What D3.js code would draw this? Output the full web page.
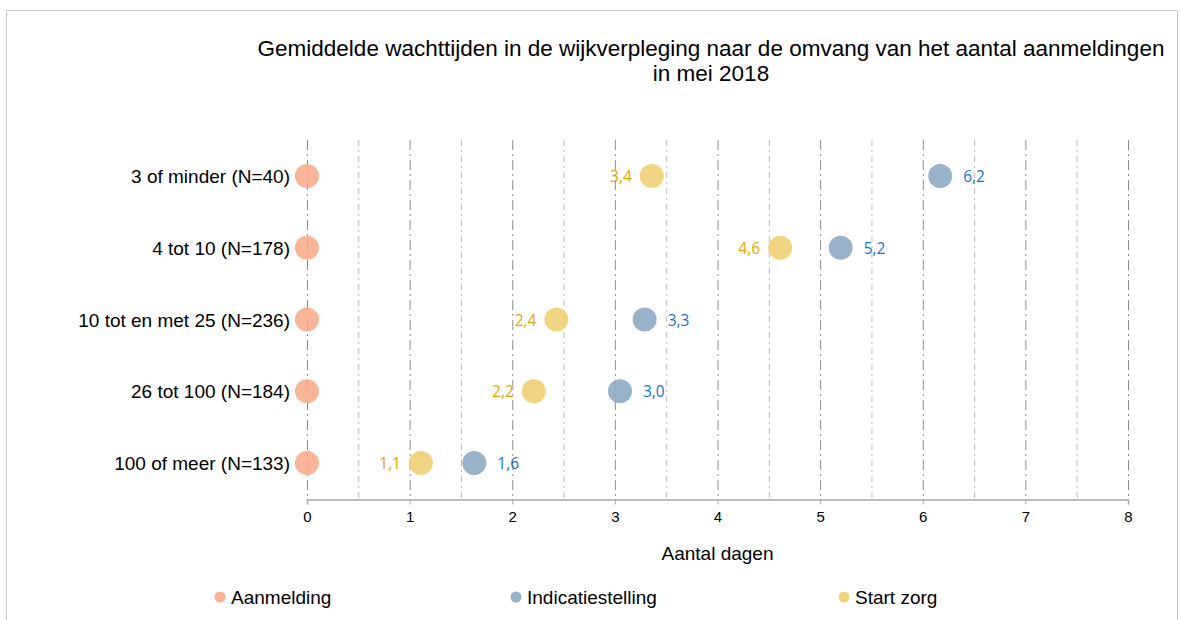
<!DOCTYPE html>
<html>
<head>
<meta charset="utf-8">
<title>Wachttijden wijkverpleging</title>
<style>
  body { margin: 0; background: #fff; }
  text { font-family: "Liberation Sans", Arial, sans-serif; fill: #000; }
  .lbl { font-family: "Open Sans", "Noto Sans", sans-serif; font-size: 15.5px; }
</style>
</head>
<body>
<svg></svg>
<script src="https://d3js.org/d3.v7.min.js"></script>
<script>
var categories = ['3 of minder (N=40)', '4 tot 10 (N=178)', '10 tot en met 25 (N=236)', '26 tot 100 (N=184)', '100 of meer (N=133)'];
var aanmelding = [0, 0, 0, 0, 0];
var indicatiestelling = [6.17, 5.2, 3.29, 3.05, 1.63];
var startZorg = [3.36, 4.61, 2.43, 2.21, 1.11];
var seriesNames = ['Aanmelding', 'Indicatiestelling', 'Start zorg'];
var xTicks = [0, 1, 2, 3, 4, 5, 6, 7, 8];

var width = 1180, height = 620,
    plotLeft = 307, plotRight = 1128, plotTop = 140, plotBottom = 499;

var colors = { fill: ['#f7a886', '#8fa9c4', '#f0cf73'], label: ['#e8a000', '#1874c4', '#e6a500'] };

var svg = d3.select('svg').attr('width', width).attr('height', height);

// outer frame
svg.append('path')
    .attr('d', `M6.5,${height} V10.5 H1177.5 V${height}`)
    .attr('fill', 'none').attr('stroke', '#c8c8c8');

var x = d3.scaleLinear().domain([0, 8]).range([plotLeft, plotRight]);
var y = d3.scaleBand().domain(categories).range([plotTop, plotBottom]);

// gridlines
var halves = d3.range(0, 8.01, 0.5);
svg.append('g').selectAll('line').data(halves).join('line')
    .attr('x1', d => x(d) + 0.5).attr('x2', d => x(d) + 0.5)
    .attr('y1', plotTop).attr('y2', plotBottom)
    .attr('stroke', d => d % 1 === 0 ? '#8c8c8c' : '#bdbdbd')
    .attr('stroke-width', 1)
    .attr('stroke-dasharray', d => d % 1 === 0 ? '10,4,2,4' : '6,4,2,4');

// x axis
var xAxis = svg.append('g').attr('transform', `translate(0,${plotBottom + 0.5})`)
    .call(d3.axisBottom(x).tickValues(xTicks).tickSize(5).tickFormat(d3.format('d')));
xAxis.attr('font-size', 15).attr('font-family', '"Liberation Sans", Arial, sans-serif');
xAxis.select('.domain').attr('stroke', '#a6a6a6').attr('stroke-width', 1.5);
xAxis.selectAll('.tick line').attr('stroke', '#a6a6a6');
xAxis.selectAll('.tick text').attr('y', 12).attr('fill', '#000');

svg.append('text').attr('x', x(4)).attr('y', 560).attr('text-anchor', 'middle')
    .attr('font-size', 19).text('Aantal dagen');

// category labels
svg.append('g').selectAll('text').data(categories).join('text')
    .attr('x', plotLeft - 17).attr('y', d => y(d) + y.bandwidth() / 2 + 7)
    .attr('text-anchor', 'end').attr('font-size', 19).text(d => d);

// title
var title = svg.append('text').attr('x', 711).attr('y', 56).attr('text-anchor', 'middle').attr('font-size', 22.5);
title.append('tspan').attr('x', 711).text('Gemiddelde wachttijden in de wijkverpleging naar de omvang van het aantal aanmeldingen');
title.append('tspan').attr('x', 711).attr('dy', 25).text('in mei 2018');

// points
var series = [aanmelding, indicatiestelling, startZorg];
var fmt = v => d3.format('.1f')(v).replace('.', ',');
series.forEach(function (vals, s) {
    var g = svg.append('g');
    g.selectAll('circle').data(vals).join('circle')
        .attr('cx', d => x(d)).attr('cy', (d, i) => y(categories[i]) + y.bandwidth() / 2)
        .attr('r', 12).attr('fill', colors.fill[s]).attr('fill-opacity', s === 0 ? 0.85 : 0.9);
    if (s === 0) return;
    g.selectAll('text').data(vals).join('text').attr('class', 'lbl')
        .attr('x', d => s === 1 ? x(d) + 23 : x(d) - 20)
        .attr('y', (d, i) => y(categories[i]) + y.bandwidth() / 2 + 6)
        .attr('text-anchor', s === 1 ? 'start' : 'end')
        .style('fill', colors.label[s])
        .text(d => fmt(d));
});

// legend
var legendX = [220, 516, 844];
var leg = svg.append('g').selectAll('g').data(seriesNames).join('g')
    .attr('transform', (d, i) => `translate(${legendX[i]},597)`);
leg.append('circle').attr('r', 5.5).attr('fill', (d, i) => colors.fill[i]).attr('fill-opacity', 0.9);
leg.append('text').attr('x', 11).attr('y', 7).attr('font-size', 19).text(d => d);
</script>
</body>
</html>
